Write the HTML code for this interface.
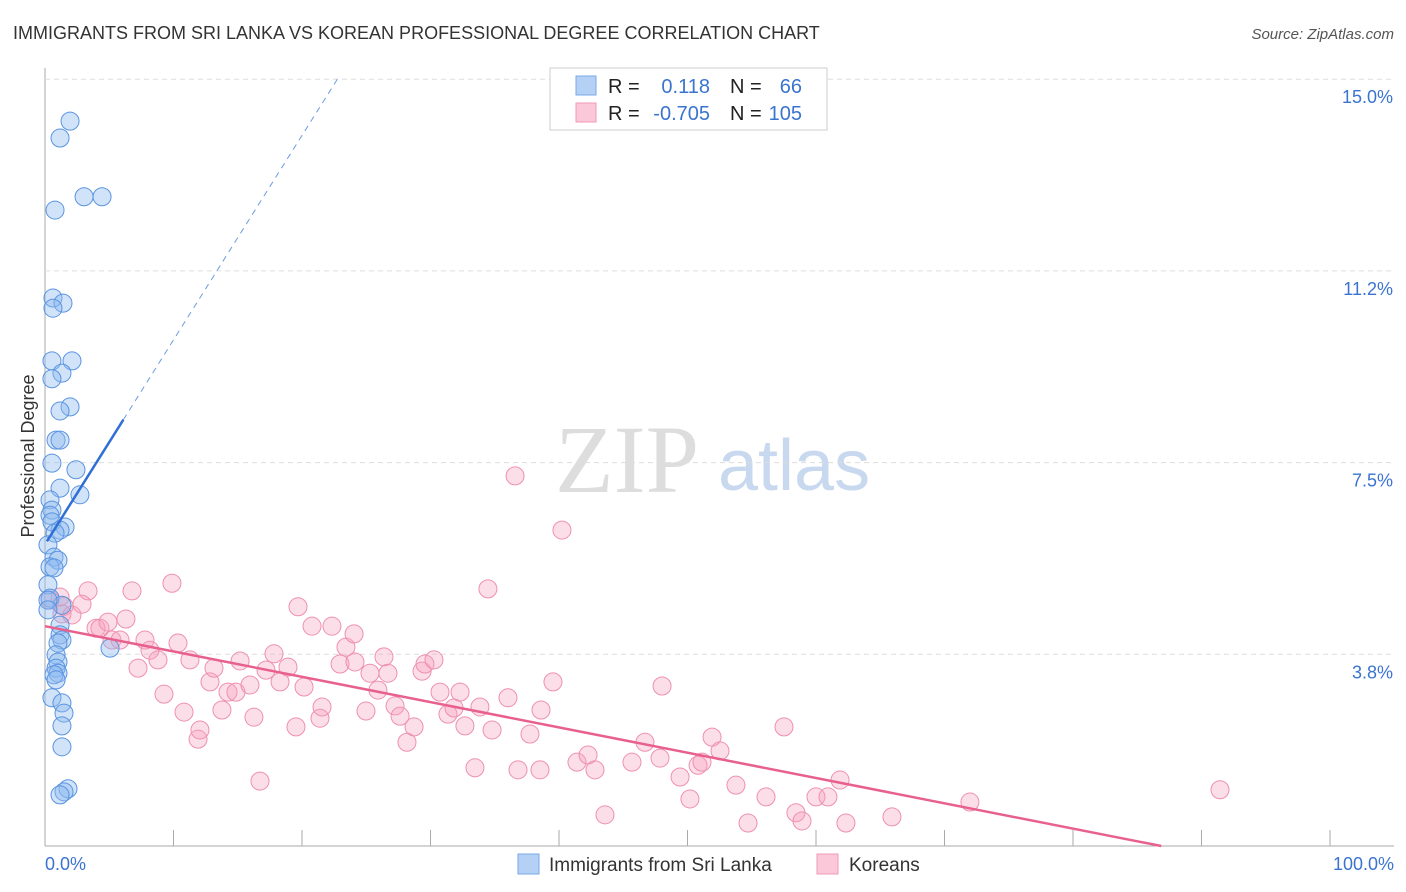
<!DOCTYPE html>
<html><head><meta charset="utf-8"><style>
body{margin:0;background:#fff;font-family:"Liberation Sans",sans-serif;}
#wrap{position:relative;width:1406px;height:892px;overflow:hidden;}
</style></head><body>
<div id="wrap">
<svg id="svg" width="1406" height="892" xmlns="http://www.w3.org/2000/svg">
<text x="13" y="39" font-size="18" fill="#333">IMMIGRANTS FROM SRI LANKA VS KOREAN PROFESSIONAL DEGREE CORRELATION CHART</text>
<text x="1394" y="39" font-size="15" fill="#555" font-style="italic" text-anchor="end">Source: ZipAtlas.com</text>
<text x="34" y="456" font-size="18" fill="#333" text-anchor="middle" transform="rotate(-90 34 456)">Professional Degree</text>
<text x="555" y="492" font-size="96" fill="#ddd" font-family="Liberation Serif,serif">ZIP</text>
<text x="718" y="490" font-size="72" fill="#c8d8ee">atlas</text>
<g id="grid"></g><g id="pts"></g><g id="lines"></g>
<g>
<rect x="550" y="68" width="277" height="62" fill="#fff" stroke="#ccc"/>
<rect x="576" y="76" width="20" height="19" fill="#b5d0f5" stroke="#7aa8e8"/>
<rect x="576" y="103" width="20" height="19" fill="#fac8d8" stroke="#f09ab6"/>
<text x="608" y="93" font-size="20" fill="#222">R =</text>
<text x="710" y="93" font-size="20" fill="#3a74d0" text-anchor="end">0.118</text>
<text x="730" y="93" font-size="20" fill="#222">N =</text>
<text x="802" y="93" font-size="20" fill="#3a74d0" text-anchor="end">66</text>
<text x="608" y="120" font-size="20" fill="#222">R =</text>
<text x="710" y="120" font-size="20" fill="#3a74d0" text-anchor="end">-0.705</text>
<text x="730" y="120" font-size="20" fill="#222">N =</text>
<text x="802" y="120" font-size="20" fill="#3a74d0" text-anchor="end">105</text>
</g>
<g>
<rect x="518" y="854" width="21" height="20" fill="#b5d0f5" stroke="#7aa8e8"/>
<text x="549" y="871" font-size="19" fill="#333">Immigrants from Sri Lanka</text>
<rect x="817" y="854" width="21" height="20" fill="#fac8d8" stroke="#f09ab6"/>
<text x="849" y="871" font-size="19" fill="#333">Koreans</text>
</g>
<text x="45" y="870" font-size="18" fill="#3a74d0">0.0%</text>
<text x="1394" y="870" font-size="18" fill="#3a74d0" text-anchor="end">100.0%</text>
</svg></div>
<script>
const yTicks=[3.75,7.5,11.25,15];
const yTickLabels=["3.8%","7.5%","11.2%","15.0%"];
const xTicks=[0,10,20,30,40,50,60,70,80,90,100];
const bluePx=[[70,121],[60,138],[55,210],[84,197],[102,197],[53,298],[63,303],[53,308],[52,361],[72,361],[62,373],[52,379],[70,407],[60,411],[56,440],[60,440],[52,463],[76,470],[60,488],[80,495],[50,500],[52,510],[50,515],[52,522],[65,527],[60,530],[55,533],[48,545],[54,557],[58,560],[50,567],[54,568],[48,585],[50,598],[62,605],[60,625],[60,635],[62,640],[58,643],[110,648],[56,655],[58,662],[56,668],[58,673],[54,675],[56,680],[52,698],[62,703],[64,713],[62,726],[62,747],[68,789],[64,792],[60,795],[48,600],[48,610]];
const pinkPx=[[50,600],[60,597],[64,606],[88,591],[62,614],[72,615],[82,604],[96,628],[100,628],[108,622],[112,640],[120,640],[126,619],[132,591],[138,668],[145,640],[150,650],[158,660],[164,694],[172,583],[178,643],[184,712],[190,660],[198,739],[200,730],[210,682],[214,668],[222,710],[228,692],[236,692],[240,661],[250,685],[254,717],[260,781],[266,670],[274,654],[280,682],[288,667],[296,727],[298,607],[304,687],[312,626],[320,718],[322,707],[332,626],[340,664],[346,647],[354,634],[355,662],[366,711],[370,673],[378,690],[384,657],[388,673],[395,706],[400,716],[407,742],[414,727],[422,671],[425,664],[434,660],[440,692],[448,714],[454,708],[460,692],[465,726],[475,768],[480,707],[492,730],[508,698],[515,476],[518,770],[530,734],[540,770],[541,710],[553,682],[562,530],[577,762],[588,755],[595,770],[605,815],[632,762],[645,742],[660,758],[662,686],[680,777],[690,799],[698,765],[702,762],[712,737],[720,751],[736,785],[748,823],[766,797],[784,727],[796,813],[802,821],[816,797],[828,797],[840,780],[846,823],[892,817],[970,802],[1220,790],[488,589]];
// convert read pixel estimates to data values (x %, y %)
const blueX=bluePx.map(p=>+((p[0]-45)/12.85).toFixed(2));
const blueY=bluePx.map(p=>+((846-p[1])*3.75/191.7).toFixed(2));
const pinkX=pinkPx.map(p=>+((p[0]-45)/12.85).toFixed(2));
const pinkY=pinkPx.map(p=>+((846-p[1])*3.75/191.7).toFixed(2));
const blueFit=[5.9,0.40], pinkFit=[4.30,-0.0495];
const X=v=>45+v*12.85, Y=v=>846-v*191.7/3.75;
const NS="http://www.w3.org/2000/svg";
function mk(t,a,p){const e=document.createElementNS(NS,t);for(const k in a)e.setAttribute(k,a[k]);p.appendChild(e);return e;}
const g=document.getElementById('grid');
let ax=mk('line',{x1:45,y1:68,x2:45,y2:846,stroke:'#aaa'},g);


let bx=mk('line',{x1:45,y1:846,x2:1394,y2:846,stroke:'#aaa'},g);


yTicks.forEach((v,i)=>{
 const l=mk('line',{x1:45,x2:1394,y1:Y(v),y2:Y(v),stroke:'#ddd','stroke-dasharray':'5,4'},g);
 
 
 const t=mk('text',{x:1393,y:Y(v)+24,'font-size':18,fill:'#3a74d0','text-anchor':'end'},g);t.textContent=yTickLabels[i];
 
 
});
xTicks.forEach(v=>{const l=mk('line',{x1:X(v),x2:X(v),y1:830,y2:846,stroke:'#aaa'},g);
 
 });
const pg=document.getElementById('pts');
pinkX.forEach((x,i)=>{const c=mk('circle',{cx:X(x),cy:Y(pinkY[i]),r:9,fill:'rgba(245,160,190,0.35)',stroke:'#ee90b0','stroke-width':1},pg);
 
 });
blueX.forEach((x,i)=>{const c=mk('circle',{cx:X(x),cy:Y(blueY[i]),r:9,fill:'rgba(140,185,240,0.4)',stroke:'#5a94e0','stroke-width':1},pg);
 
 });
const lg=document.getElementById('lines');
const bf=x=>blueFit[0]+blueFit[1]*x, pf=x=>pinkFit[0]+pinkFit[1]*x;
let l1=mk('line',{x1:X(0.15),y1:Y(bf(0.15)),x2:X(6.1),y2:Y(bf(6.1)),stroke:'#2f6fd6','stroke-width':2.5},lg);


const xe=(15.0-blueFit[0])/blueFit[1];
let l2=mk('line',{x1:X(6.1),y1:Y(bf(6.1)),x2:X(xe),y2:Y(bf(xe)),stroke:'#6a9de0','stroke-width':1,'stroke-dasharray':'6,5'},lg);


const x0=-pinkFit[0]/pinkFit[1];
let l3=mk('line',{x1:X(0),y1:Y(pf(0)),x2:X(x0),y2:Y(0),stroke:'#e8608e','stroke-width':2.5},lg);


</script>
</body></html>
